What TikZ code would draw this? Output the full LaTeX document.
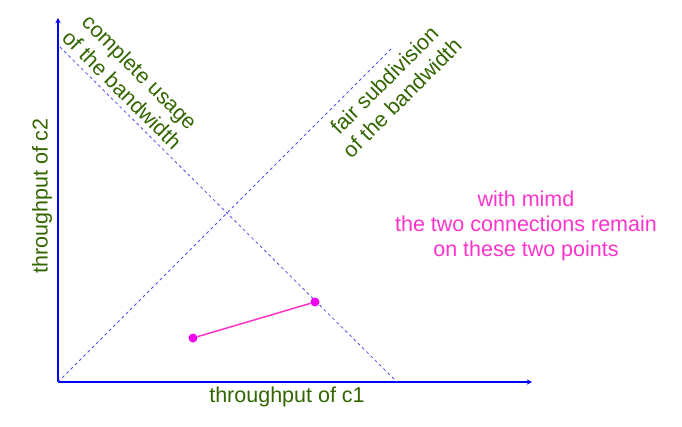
\documentclass[tikz,border=0pt]{standalone}
\usepackage{fontspec}
\setmainfont{Liberation Sans}
\usepackage{tikz}
\usetikzlibrary{calc}
\definecolor{labelgreen}{RGB}{51,102,0}
\definecolor{notepink}{RGB}{255,51,204}
\definecolor{dotpink}{RGB}{240,0,240}
\definecolor{guideblue}{RGB}{80,80,230}
\tikzstyle{axis}=[
    draw=blue,      % axes are plain blue
    line width=1.3pt]
\tikzstyle{guide}=[
    draw=guideblue, % thin blue dashed guide lines
    dash pattern=on 3pt off 3pt,
    line width=0.8pt]
\tikzstyle{axislabel}=[
    text=labelgreen, % green labels
    font=\fontsize{21.5}{25}\selectfont,
    align=center]
\tikzstyle{statedot}=[
    circle,         % small filled dot
    fill=dotpink,
    inner sep=0pt,
    minimum size=9pt]

\begin{document}
\begin{tikzpicture}[>=stealth, x=1pt, y=1pt]
        \useasboundingbox (0,0) rectangle (682,426);
        % Axes
        \coordinate (o) at (58,44);
        \coordinate (xend) at (532,44);
        \coordinate (yend) at (58,408);
        \draw[axis,->] (o) -- (xend);
        \draw[axis,->] (o) -- (yend);

        % Guide lines
        \coordinate (full1) at (60,379);
        \coordinate (full2) at (397,44);
        \coordinate (fair) at (393,379);
        \draw[guide] (full1) -- (full2);
        \draw[guide] (o) -- (fair);

        % Labels
        \node[axislabel] (c1) at (287,29) {throughput of c1};
        \node[axislabel, rotate=90] (c2) at (42,230) {throughput of c2};
        \node[axislabel, rotate=-45] (usage) at (131,345) {complete usage\\of the bandwidth};
        \node[axislabel, rotate=45] (share) at (393,337) {fair subdivision\\of the bandwidth};
        \node[axislabel, text=notepink] (note) at (526,200) {with mimd\\the two connections remain\\on these two points};

        % The two states
        \node[statedot] (a) at (193,88) {};
        \node[statedot] (b) at (315,124) {};
        \draw[notepink, line width=1.5pt] (a) -- (b);
\end{tikzpicture}
\end{document}
